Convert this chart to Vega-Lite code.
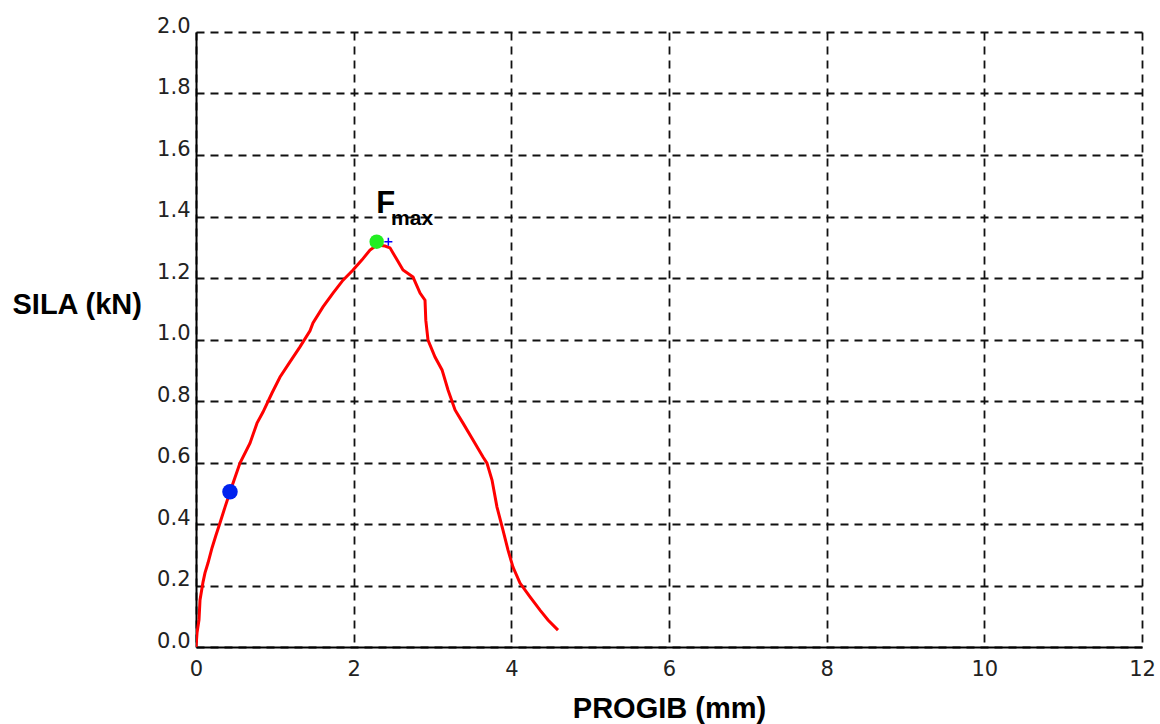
{
  "$schema": "https://vega.github.io/schema/vega-lite/v6.json",
  "width": 946,
  "height": 615,
  "autosize": "none",
  "padding": {"left": 196, "top": 32, "right": 18, "bottom": 77},
  "background": "white",
  "config": {"view": {"stroke": null}},
  "datasets": {
    "curve": [
      {"x": 0, "y": 0},
      {"x": 0.013, "y": 0.046},
      {"x": 0.038, "y": 0.088},
      {"x": 0.051, "y": 0.153},
      {"x": 0.089, "y": 0.211},
      {"x": 0.114, "y": 0.241},
      {"x": 0.152, "y": 0.273},
      {"x": 0.203, "y": 0.322},
      {"x": 0.254, "y": 0.364},
      {"x": 0.304, "y": 0.403},
      {"x": 0.368, "y": 0.455},
      {"x": 0.431, "y": 0.504},
      {"x": 0.558, "y": 0.598},
      {"x": 0.685, "y": 0.663},
      {"x": 0.774, "y": 0.728},
      {"x": 0.85, "y": 0.764},
      {"x": 0.964, "y": 0.826},
      {"x": 1.066, "y": 0.878},
      {"x": 1.192, "y": 0.927},
      {"x": 1.319, "y": 0.976},
      {"x": 1.446, "y": 1.028},
      {"x": 1.484, "y": 1.054},
      {"x": 1.611, "y": 1.106},
      {"x": 1.738, "y": 1.151},
      {"x": 1.865, "y": 1.193},
      {"x": 1.992, "y": 1.226},
      {"x": 2.106, "y": 1.259},
      {"x": 2.207, "y": 1.291},
      {"x": 2.296, "y": 1.307},
      {"x": 2.398, "y": 1.304},
      {"x": 2.461, "y": 1.298},
      {"x": 2.55, "y": 1.259},
      {"x": 2.626, "y": 1.226},
      {"x": 2.753, "y": 1.203},
      {"x": 2.842, "y": 1.151},
      {"x": 2.905, "y": 1.128},
      {"x": 2.915, "y": 1.063},
      {"x": 2.943, "y": 0.998},
      {"x": 3.032, "y": 0.943},
      {"x": 3.121, "y": 0.901},
      {"x": 3.197, "y": 0.836},
      {"x": 3.286, "y": 0.771},
      {"x": 3.387, "y": 0.728},
      {"x": 3.514, "y": 0.673},
      {"x": 3.641, "y": 0.618},
      {"x": 3.691, "y": 0.598},
      {"x": 3.755, "y": 0.543},
      {"x": 3.818, "y": 0.455},
      {"x": 3.894, "y": 0.38},
      {"x": 3.958, "y": 0.315},
      {"x": 4.021, "y": 0.26},
      {"x": 4.11, "y": 0.208},
      {"x": 4.237, "y": 0.163},
      {"x": 4.364, "y": 0.12},
      {"x": 4.465, "y": 0.088},
      {"x": 4.592, "y": 0.055}
    ],
    "marks": [
      {"x": 0.431, "y": 0.505, "kind": "blue"},
      {"x": 2.292, "y": 1.318, "kind": "green"},
      {"x": 2.44, "y": 1.318, "kind": "plus"}
    ],
    "labels": [
      {"x": 2.285, "y": 1.411, "t": "F", "sz": "big"},
      {"x": 2.475, "y": 1.372, "t": "max", "sz": "small"}
    ]
  },
  "layer": [
    {
      "data": {"name": "curve"},
      "mark": {"type": "line", "color": "#ff0000", "strokeWidth": 3, "clip": true},
      "encoding": {
        "x": {
          "field": "x", "type": "quantitative",
          "scale": {"domain": [0, 12], "nice": false, "zero": false},
          "axis": {
            "values": [0, 2, 4, 6, 8, 10, 12],
            "format": "d",
            "title": "PROGIB (mm)",
            "titleFont": "Liberation Sans", "titleFontSize": 29, "titleFontWeight": "bold", "titleColor": "#000",
            "titleY": 70, "titleBaseline": "alphabetic",
            "labelFont": "DejaVu Sans", "labelFontSize": 21, "labelColor": "#222",
            "labelPadding": 11, "labelBaseline": "top", "labelFlush": false,
            "ticks": false,
            "domainColor": "#000", "domainWidth": 2,
            "grid": true, "gridColor": "#111", "gridWidth": 1.8, "gridDash": [8, 6], "gridOpacity": 1
          }
        },
        "y": {
          "field": "y", "type": "quantitative",
          "scale": {"domain": [0, 2], "nice": false, "zero": false},
          "axis": {
            "values": [0, 0.2, 0.4, 0.6, 0.8, 1.0, 1.2, 1.4, 1.6, 1.8, 2.0],
            "format": ".1f",
            "title": "SILA (kN)",
            "titleFont": "Liberation Sans", "titleFontSize": 29, "titleFontWeight": "bold", "titleColor": "#000",
            "titleAngle": 0, "titleAlign": "left", "titleBaseline": "alphabetic",
            "titleX": -184, "titleY": 281,
            "labelFont": "DejaVu Sans", "labelFontSize": 21, "labelColor": "#222",
            "labelPadding": 6, "labelBaseline": "alphabetic", "labelFlush": false,
            "ticks": false,
            "domainColor": "#000", "domainWidth": 2,
            "grid": true, "gridColor": "#111", "gridWidth": 1.8, "gridDash": [8, 6], "gridOpacity": 1
          }
        }
      }
    },
    {
      "data": {"name": "marks"},
      "transform": [{"filter": "datum.kind === 'blue'"}],
      "mark": {"type": "point", "shape": "circle", "filled": true, "color": "#0022ee", "size": 240, "opacity": 1},
      "encoding": {
        "x": {"field": "x", "type": "quantitative"},
        "y": {"field": "y", "type": "quantitative"}
      }
    },
    {
      "data": {"name": "marks"},
      "transform": [{"filter": "datum.kind === 'green'"}],
      "mark": {"type": "point", "shape": "circle", "filled": true, "color": "#22ee22", "size": 210, "opacity": 1},
      "encoding": {
        "x": {"field": "x", "type": "quantitative"},
        "y": {"field": "y", "type": "quantitative"}
      }
    },
    {
      "data": {"name": "marks"},
      "transform": [{"filter": "datum.kind === 'plus'"}],
      "mark": {"type": "point", "shape": "M-1,0L1,0M0,-1L0,1", "filled": false, "color": "#0000ff", "size": 64, "strokeWidth": 1.5, "opacity": 1},
      "encoding": {
        "x": {"field": "x", "type": "quantitative"},
        "y": {"field": "y", "type": "quantitative"}
      }
    },
    {
      "data": {"name": "labels"},
      "transform": [{"filter": "datum.sz === 'big'"}],
      "mark": {"type": "text", "font": "Liberation Sans", "fontWeight": "bold", "fontSize": 31, "align": "left", "baseline": "alphabetic", "color": "#000"},
      "encoding": {
        "x": {"field": "x", "type": "quantitative"},
        "y": {"field": "y", "type": "quantitative"},
        "text": {"field": "t"}
      }
    },
    {
      "data": {"name": "labels"},
      "transform": [{"filter": "datum.sz === 'small'"}],
      "mark": {"type": "text", "font": "Liberation Sans", "fontWeight": "bold", "fontSize": 21, "align": "left", "baseline": "alphabetic", "color": "#000"},
      "encoding": {
        "x": {"field": "x", "type": "quantitative"},
        "y": {"field": "y", "type": "quantitative"},
        "text": {"field": "t"}
      }
    }
  ]
}
